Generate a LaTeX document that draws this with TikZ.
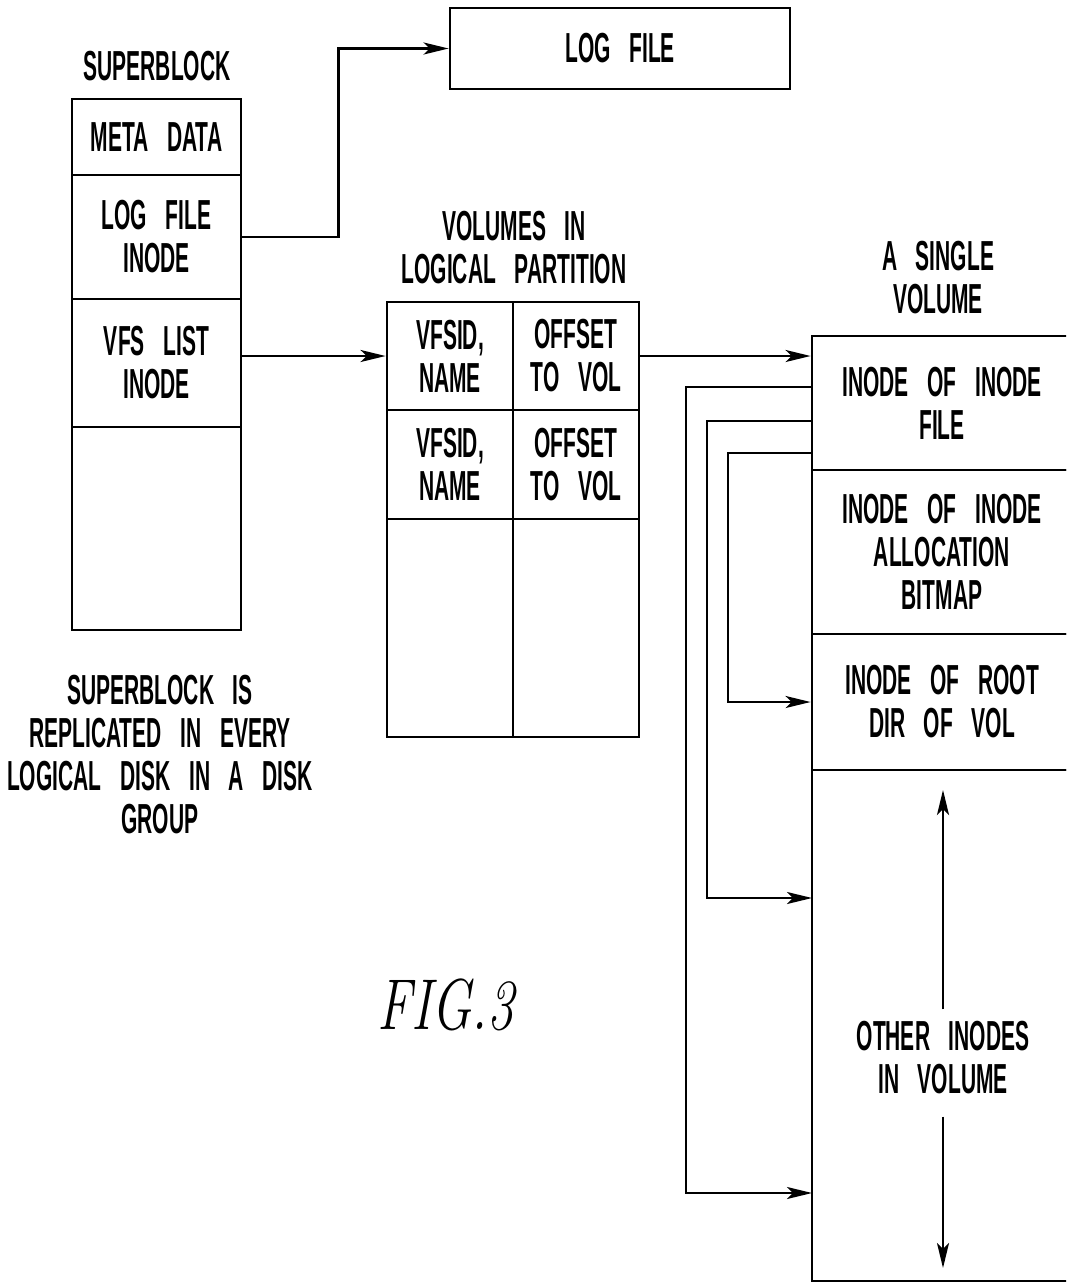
\documentclass[tikz,border=0pt]{standalone}
\usepackage{fontspec}
\newfontfamily\lab[FakeStretch=0.5,WordSpace=3.2]{Liberation Sans Bold}
\usetikzlibrary{arrows.meta}
\begin{document}
\begin{tikzpicture}[x=1pt,y=-1pt,
  cell/.style={draw,line width=2.8pt,rectangle,inner sep=0pt,align=center,
    font=\lab\fontsize{42}{43}\selectfont},
  txt/.style={inner sep=0pt,align=center,font=\lab\fontsize{42}{43}\selectfont},
  arr/.style={line width=2.5pt,-{Stealth[length=25pt,width=12pt,inset=6pt]}}]
\clip (0,0) rectangle (1066,1285);
% superblock
\node[txt] (sbt) at (157,66) {SUPERBLOCK};
\node[cell,minimum width=169,minimum height=76] (meta) at (156.5,137) {META DATA};
\node[cell,minimum width=169,minimum height=124] (logi) at (156.5,237) {LOG FILE\\INODE};
\node[cell,minimum width=169,minimum height=128] (vfsi) at (156.5,363) {VFS LIST\\INODE};
\node[cell,minimum width=169,minimum height=203] (sbe) at (156.5,528.5) {};
\node[txt] (cap) at (160,755) {SUPERBLOCK IS\\REPLICATED IN EVERY\\LOGICAL DISK IN A DISK\\GROUP};
% log file
\node[cell,minimum width=340,minimum height=81] (logf) at (620,48.5) {LOG FILE};
% volumes table
\node[txt] (vlt) at (514,248) {VOLUMES IN\\LOGICAL PARTITION};
\node[cell,minimum width=126,minimum height=108] (v11) at (450,356) {VFSID,\\NAME};
\node[cell,minimum width=126,minimum height=108] (v12) at (576,356) {OFFSET\\TO VOL};
\node[cell,minimum width=126,minimum height=109] (v21) at (450,464.5) {VFSID,\\NAME};
\node[cell,minimum width=126,minimum height=109] (v22) at (576,464.5) {OFFSET\\TO VOL};
\node[cell,minimum width=126,minimum height=218] (v31) at (450,628) {};
\node[cell,minimum width=126,minimum height=218] (v32) at (576,628) {};
% single volume
\node[txt] (svt) at (938,278) {A SINGLE\\VOLUME};
\node[cell,minimum width=260,minimum height=134] (iif) at (942,403) {INODE OF INODE\\FILE};
\node[cell,minimum width=260,minimum height=164] (iab) at (942,552) {INODE OF INODE\\ALLOCATION\\BITMAP};
\node[cell,minimum width=260,minimum height=136] (rdv) at (942,702) {INODE OF ROOT\\DIR OF VOL};
\node[cell,minimum width=260,minimum height=511] (oth) at (942,1025.5) {};
\node[txt] (otht) at (943,1058) {OTHER INODES\\IN VOLUME};
\node[inner sep=0pt,font=\fontsize{72}{80}\selectfont\itshape] (fig) at (446,1005) {\scalebox{0.74}[1]{FIG.3}};
% connectors
\draw[arr] (logi.east) -- ++(96,0) |- (logf.west);
\draw[arr] (vfsi.east |- v11.west) -- (v11.west);
\draw[arr] (v12.east) -- (iif.west |- v12.east);
\coordinate (o1) at (812,387);
\coordinate (o2) at (812,421);
\coordinate (o3) at (812,453);
\coordinate (t2) at (812,898);
\coordinate (t1) at (812,1193);
\coordinate (up) at (943,790);
\coordinate (dn) at (943,1268);
\draw[arr] (o3) -- (728,453) |- (rdv.west);
\draw[arr] (o2) -- (707,421) |- (t2);
\draw[arr] (o1) -- (686,387) |- (t1);
\draw[arr] (otht.north) ++(0,-12) -- (up);
\draw[arr] (otht.south) ++(0,22) -- (dn);
\end{tikzpicture}
\end{document}
